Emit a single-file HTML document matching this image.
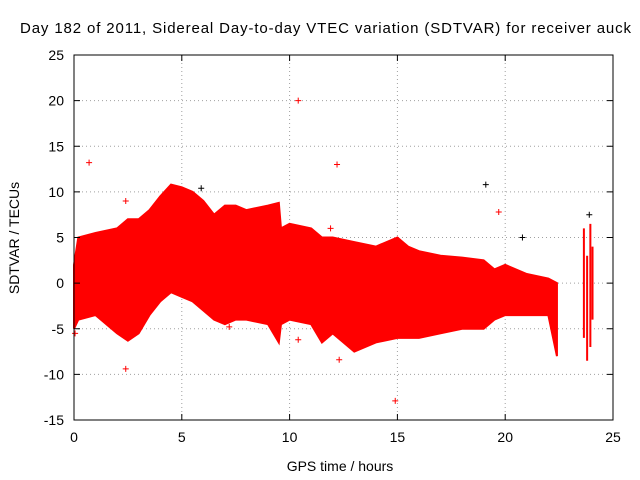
<!DOCTYPE html>
<html><head><meta charset="utf-8"><style>
body{margin:0;background:#fff}
svg{display:block;font-family:"Liberation Sans",sans-serif}
</style></head><body>
<svg id="c" width="640" height="480" viewBox="0 0 640 480">
<text x="20" y="33" font-size="15" textLength="611" lengthAdjust="spacing">Day 182 of 2011, Sidereal Day-to-day VTEC variation (SDTVAR) for receiver auck</text>
<text x="340" y="471" font-size="14" text-anchor="middle">GPS time / hours</text>
<text x="19" y="238" font-size="14" text-anchor="middle" transform="rotate(-90 19 238)">SDTVAR / TECUs</text>
<g id="grid"></g><g id="band"></g><g id="pts"></g><g id="axes"></g>
</svg>
<script>
const xTicks=[0,5,10,15,20,25];
const yTicks=[-15,-10,-5,0,5,10,15,20,25];
const envTime=[0,0.2,1,2,2.5,3,3.5,4,4.5,5,5.5,6,6.5,7,7.5,8,9,9.5,9.6,10,11,11.5,12,13,14,15,15.5,16,17,18,19,19.5,20,21,22,22.4];
const envUpper=[2,5,5.5,6,7,7,8,9.5,10.8,10.5,10,9,7.5,8.5,8.5,8,8.5,8.8,6,6.5,6,5,5,4.5,4,5,4,3.5,3,2.8,2.5,1.5,2,1,0.5,0];
const envLower=[-5,-4,-3.5,-5.5,-6.3,-5.5,-3.5,-2,-1,-1.5,-2,-3,-4,-4.5,-4,-4,-4.5,-6.5,-4.5,-4,-4.5,-6.5,-5.5,-7.5,-6.5,-6,-6,-6,-5.5,-5,-5,-4,-3.5,-3.5,-3.5,-8];
const redPtX=[0.7,2.4,10.4,12.2,14.9,19.7,12.3,10.4,7.2,0.05,2.4,11.9];
const redPtY=[13.2,-9.4,20,13,-12.9,7.8,-8.4,-6.2,-4.8,-5.5,9,6];
const blackPtX=[5.9,19.1,20.8,23.9];
const blackPtY=[10.4,10.8,5,7.5];
const stripeX=[23.65,23.8,23.95,24.05];
const stripeLo=[-6,-8.5,-7,-4];
const stripeHi=[6,3,6.5,4];
const X0=74,X1=613,Y0=420,Y1=55;
const sx=v=>X0+(v-0)/25*(X1-X0);
const sy=v=>Y0-(v+15)/40*(Y0-Y1);
const NS="http://www.w3.org/2000/svg";
function mk(p,t,a){const e=document.createElementNS(NS,t);for(const k in a)e.setAttribute(k,a[k]);document.getElementById(p).appendChild(e);return e;}
xTicks.forEach(t=>{
 if(t>0&&t<25){const g=mk('grid','line',{x1:sx(t),x2:sx(t),y1:Y1,y2:Y0,stroke:'#a0a0a0','stroke-dasharray':'1,3'});
 
 }
 const tx=mk('axes','text',{x:sx(t),y:Y0+22,'font-size':14,'text-anchor':'middle'});tx.textContent=t;
 
 
 mk('axes','line',{x1:sx(t),x2:sx(t),y1:Y0,y2:Y0-6,stroke:'#000'});mk('axes','line',{x1:sx(t),x2:sx(t),y1:Y1,y2:Y1+6,stroke:'#000'});
});
yTicks.forEach(t=>{
 if(t>-15&&t<25){const g=mk('grid','line',{x1:X0,x2:X1,y1:sy(t),y2:sy(t),stroke:'#a0a0a0','stroke-dasharray':'1,3'});
 
 }
 const tx=mk('axes','text',{x:X0-10,y:sy(t)+5,'font-size':14,'text-anchor':'end'});tx.textContent=t;
 
 
 mk('axes','line',{x1:X0,x2:X0+6,y1:sy(t),y2:sy(t),stroke:'#000'});mk('axes','line',{x1:X1,x2:X1-6,y1:sy(t),y2:sy(t),stroke:'#000'});
});
const fr=mk('axes','rect',{x:X0,y:Y1,width:X1-X0,height:Y0-Y1,fill:'none',stroke:'#000'});


let pts=envTime.map((t,i)=>sx(t)+','+sy(envUpper[i]));
for(let i=envTime.length-1;i>=0;i--)pts.push(sx(envTime[i])+','+sy(envLower[i]));
const band=mk('band','polygon',{points:pts.join(' '),fill:'#f00',stroke:'#f00','stroke-width':2});


stripeX.forEach((x,i)=>{const l=mk('band','line',{x1:sx(x),x2:sx(x),y1:sy(stripeLo[i]),y2:sy(stripeHi[i]),stroke:'#f00','stroke-width':2});
 
 });
function cross(x,y,c,name){const g=mk('pts','path',{d:`M${sx(x)-3},${sy(y)}h6M${sx(x)},${sy(y)-3}v6`,stroke:c,'stroke-width':1});
 
 }
redPtX.forEach((x,i)=>cross(x,redPtY[i],'#f00','outlier-point'));
blackPtX.forEach((x,i)=>cross(x,blackPtY[i],'#000','black-outlier-point'));
</script>
</body></html>
